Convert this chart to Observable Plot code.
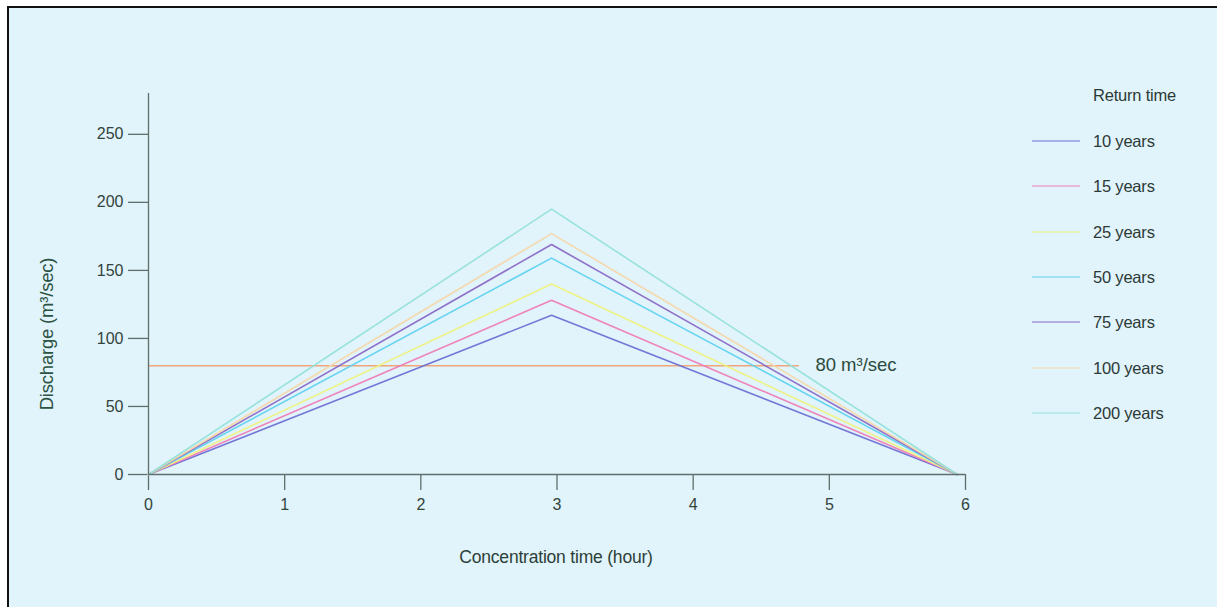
<!DOCTYPE html>
<html>
<head>
<meta charset="utf-8">
<script src="https://cdn.jsdelivr.net/npm/d3@7"></script>
<script src="https://cdn.jsdelivr.net/npm/@observablehq/plot@0.6"></script>
<style>
  html, body { margin: 0; padding: 0; background: #ffffff; }
  #wrap { position: relative; width: 1217px; height: 607px; overflow: hidden; background: #ffffff;
          font-family: "Liberation Sans", Arial, sans-serif; }
  #panel { position: absolute; left: 7px; top: 6px; width: 1210px; height: 601px;
           border-left: 2px solid #111; border-top: 2px solid #111; background: #e1f3fb; }
  #chart { position: absolute; left: 0; top: 0; }
  .lbl { position: absolute; color: #2c3f38; font-size: 17.5px; white-space: nowrap; letter-spacing: -0.2px; }
  #ylab { left: 47px; top: 334px; transform: translate(-50%, -50%) rotate(-90deg); color: #2a5242; font-size: 18.5px; }
  #xlab { left: 556px; top: 557px; transform: translate(-50%, -50%); }
  #legend { position: absolute; left: 1032px; top: 0px; }
  .ltitle { position: absolute; left: 61px; top: 95px; transform: translateY(-50%); font-size: 16.5px; letter-spacing: -0.2px; color: #2c3a36; white-space: nowrap; }
  .lrow { position: absolute; left: 0; display: flex; align-items: center; white-space: nowrap; transform: translateY(-50%); }
  .lsw { width: 48px; height: 0; border-top: 1.6px solid; margin-right: 13px; }
  .ltxt { font-size: 16.5px; letter-spacing: -0.2px; color: #2c3a36; }
</style>
</head>
<body>
<div id="wrap">
  <div id="panel"></div>
  <div id="chart"></div>
  <div id="ylab" class="lbl">Discharge (m³/sec)</div>
  <div id="xlab" class="lbl">Concentration time (hour)</div>
  <div id="legend"></div>
</div>
<script>
// ---- data ----
const returnTimes = ["10 years", "15 years", "25 years", "50 years", "75 years", "100 years", "200 years"];
const peakDischarge = [117, 128, 140, 159, 169, 177, 195];
const seriesColors = ["#6e70d4", "#ef7db7", "#eef27c", "#5ed2ef", "#8a69c6", "#f5d7a8", "#93e1db"];
const hydroTimes = [0, 2.96, 5.94];          // start, peak, end (hours)
const xTicks = [0, 1, 2, 3, 4, 5, 6];
const yTicks = [0, 50, 100, 150, 200, 250];
const thresholdValue = 80;
const thresholdEnd = 4.78;
const thresholdLabel = "80 m³/sec";
const legendTitle = "Return time";

// ---- table ----
const rows = [];
returnTimes.forEach((rt, i) => {
  const q = [0, peakDischarge[i], 0];
  hydroTimes.forEach((t, j) => rows.push({series: rt, t, q: q[j]}));
});

const chart = Plot.plot({
  width: 1217,
  height: 607,
  marginLeft: 148,
  marginRight: 252,
  marginTop: 93,
  marginBottom: 133,
  style: {background: "transparent", fontFamily: "Liberation Sans, Arial, sans-serif", fontSize: "16px", color: "#33443e"},
  x: {domain: [0, 6], ticks: xTicks, label: null},
  y: {domain: [0, 280], ticks: yTicks, label: null},
  color: {domain: returnTimes, range: seriesColors},
  marks: [
    Plot.axisX({ticks: xTicks, tickFormat: "d", tickSize: 16, tickPadding: 8, stroke: "#5f706b", strokeWidth: 1.3, label: null, fill: "#33443e", fontSize: 16}),
    Plot.axisY({ticks: yTicks, tickFormat: "d", tickSize: 20, tickPadding: 5, stroke: "#5f706b", strokeWidth: 1.3, label: null, fill: "#33443e", fontSize: 16}),
    Plot.ruleY([thresholdValue], {x1: 0, x2: thresholdEnd, stroke: "#f0a67a", strokeWidth: 1.5}),
    Plot.text([thresholdValue], {x: thresholdEnd, y: d => d, text: () => thresholdLabel, textAnchor: "start", dx: 16, dy: -1, fill: "#2b4a3c", fontSize: 18.5}),
    Plot.line(rows, {x: "t", y: "q", z: "series", stroke: "series", strokeWidth: 1.6, strokeOpacity: 0.95}),
    Plot.ruleX([0], {stroke: "#5f706b", strokeWidth: 1.3}),
    Plot.ruleY([0], {stroke: "#5f706b", strokeWidth: 1.3})
  ]
});
document.getElementById("chart").appendChild(chart);

// ---- legend ----
const leg = document.getElementById("legend");
const t = document.createElement("div");
t.className = "ltitle"; t.textContent = legendTitle;
leg.appendChild(t);
returnTimes.forEach((rt, i) => {
  const r = document.createElement("div");
  r.className = "lrow";
  r.style.top = (141 + i * 45.3) + "px";
  const sw = document.createElement("div");
  sw.className = "lsw"; sw.style.borderColor = seriesColors[i];
  const tx = document.createElement("span");
  tx.className = "ltxt"; tx.textContent = rt;
  r.appendChild(sw); r.appendChild(tx);
  leg.appendChild(r);
});
</script>
</body>
</html>
